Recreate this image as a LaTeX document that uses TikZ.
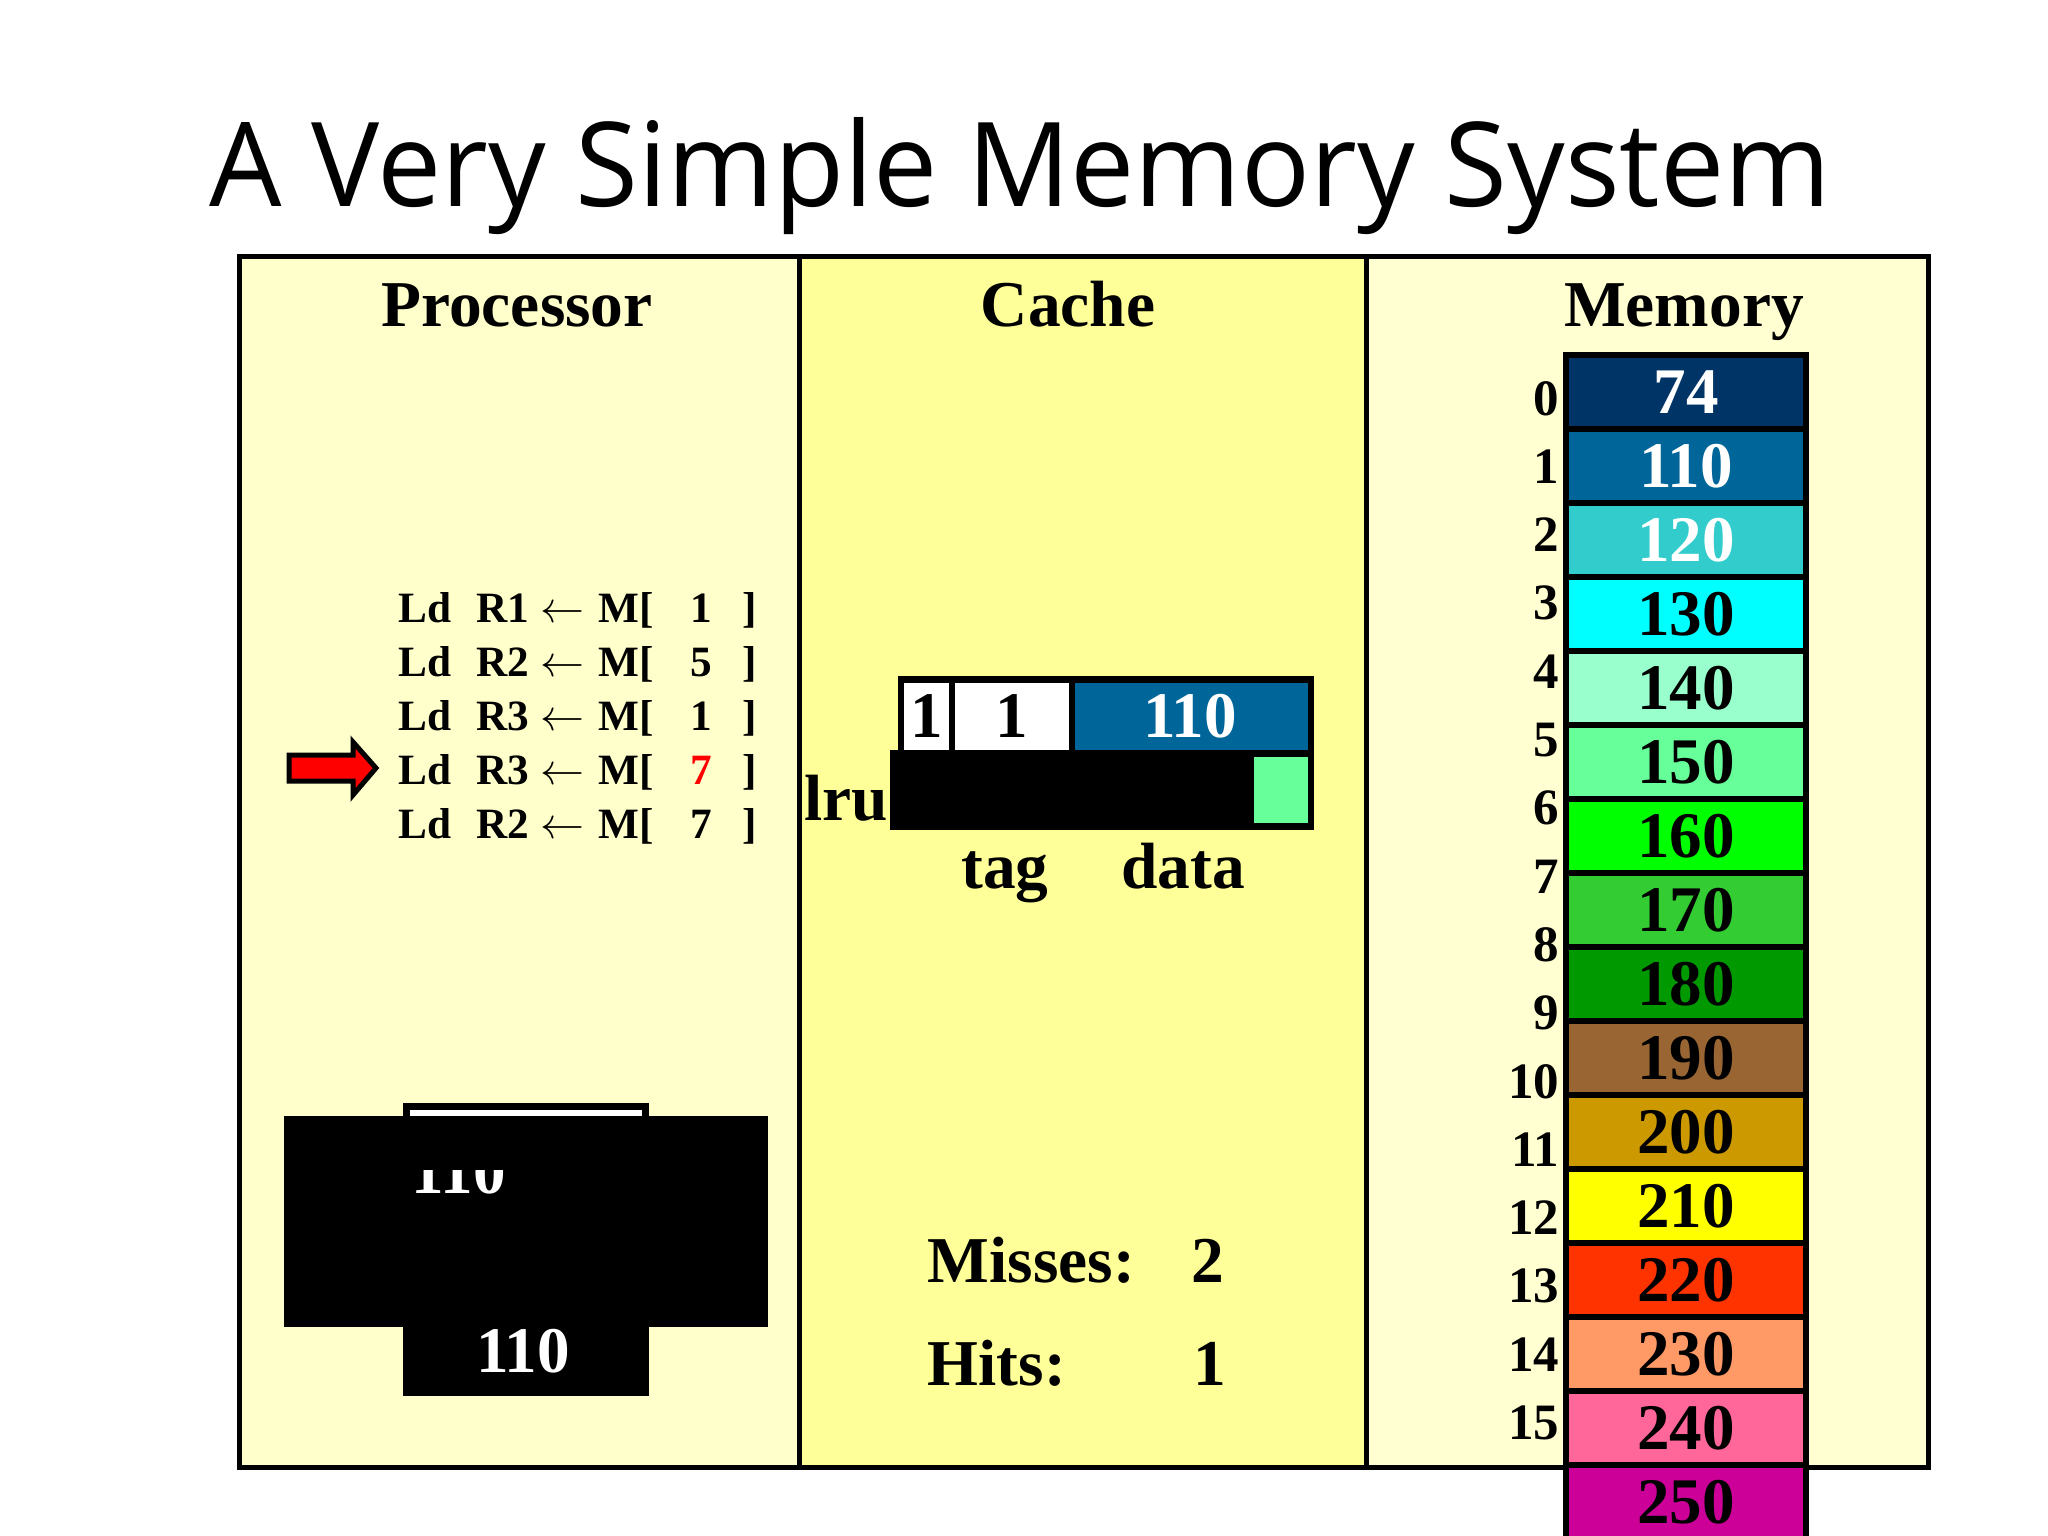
\documentclass[tikz,border=0pt]{standalone}
\usepackage{fontspec}
\usepackage{graphicx}
\setmainfont{Liberation Serif}
\newfontfamily\ttlfont{Open Sans}
\definecolor{procbg}{HTML}{FFFFCC}
\definecolor{cachebg}{HTML}{FFFF99}
\definecolor{membg}{HTML}{FFFFD2}
\definecolor{datablue}{HTML}{006699}
\definecolor{lrugreen}{HTML}{66FF99}
\definecolor{m0}{HTML}{003366}
\definecolor{m1}{HTML}{006699}
\definecolor{m2}{HTML}{33CCCC}
\definecolor{m3}{HTML}{00FFFF}
\definecolor{m4}{HTML}{99FFCC}
\definecolor{m5}{HTML}{66FF99}
\definecolor{m6}{HTML}{00FF00}
\definecolor{m7}{HTML}{33CC33}
\definecolor{m8}{HTML}{009900}
\definecolor{m9}{HTML}{996633}
\definecolor{m10}{HTML}{CC9900}
\definecolor{m11}{HTML}{FFFF00}
\definecolor{m12}{HTML}{FF3300}
\definecolor{m13}{HTML}{FF9966}
\definecolor{m14}{HTML}{FF6699}
\definecolor{m15}{HTML}{CC0099}
\tikzset{
  frame/.style={draw=black, line width=0.05cm},
  head/.style={font=\fontsize{18.6}{22}\selectfont\bfseries, inner sep=0},
  num/.style={font=\fontsize{18.5}{21}\selectfont\bfseries, inner sep=0},
  instr/.style={font=\fontsize{12.3}{15}\selectfont\bfseries, inner sep=0},
  lbl/.style={font=\fontsize{14.5}{17}\selectfont\bfseries, inner sep=0},
  memcell/.style={draw=black, line width=0.067cm},
  cellbox/.style={rectangle, inner sep=0, draw=none}
}
\begin{document}
\begin{tikzpicture}[x=0.01cm,y=-0.01cm]
\useasboundingbox (0,0) rectangle (2048,1536);
\fill[white] (0,0) rectangle (2048,1536);

% title
\node[inner sep=0, anchor=base west] (title) at (209,206)
  {\resizebox{16.2cm}{0.89cm}{\ttlfont A Very Simple Memory System}};

% panels
\draw[frame, fill=procbg] (239,256) rectangle (799,1467);
\draw[frame, fill=cachebg] (799,256) rectangle (1366,1467);
\draw[frame, fill=membg] (1366,256) rectangle (1928,1467);

\node[head, anchor=base] (hproc) at (517,326) {Processor};
\node[head, anchor=base] (hcache) at (1068,326) {Cache};
\node[head, anchor=base] (hmem) at (1684,326) {Memory};

% instructions
\foreach \r/\n/\c [count=\k] in {R1/1/black, R2/5/black, R3/1/black, R3/7/red, R2/7/black}{
  \pgfmathsetmacro\yy{622+54*(\k-1)}
  \node[instr, anchor=base west] (ld\k) at (398,\yy) {Ld};
  \node[instr, anchor=base west] (reg\k) at (476,\yy) {\r};
  \node[instr, anchor=base] (arr\k) at (563,\yy) {\resizebox{0.44cm}{!}{$\leftarrow$}};
  \node[instr, anchor=base west] (mem\k) at (598,\yy) {M[};
  \node[instr, anchor=base, text=\c] (addrv\k) at (701,\yy) {\n};
  \node[instr, anchor=base] (br\k) at (750,\yy) {]};
}

% red pointer arrow
\draw[fill=red, draw=black, line width=0.05cm, line join=miter]
  (289,755) -- (353,755) -- (353,742) -- (376,768) -- (353,795) -- (353,781) -- (289,781) -- cycle;

% register file (processor bottom)
\draw[line width=0.067cm, fill=white] (406.5,1106.5) rectangle (645.5,1200);
\fill[black] (284,1116) rectangle (768,1327);
\begin{scope}
  \clip (300,1170) rectangle (760,1260);
  \node[num, anchor=base west, text=white] (regtop) at (411,1193) {110};
\end{scope}
\fill[black] (403,1327) rectangle (649,1396);
\node[num, anchor=base, text=white] (regbot) at (523,1372) {110};

% cache line
\fill[black] (890,750) rectangle (1314,830);
\fill[black] (898,676) rectangle (1314,750);
\fill[white] (904,683) rectangle (949,750);
\fill[white] (955,683) rectangle (1069,750);
\fill[datablue] (1075,683) rectangle (1308,750);
\fill[lrugreen] (1254,757) rectangle (1308,823);
\node[num, anchor=base] (valid) at (926.5,737) {1};
\node[num, anchor=base] (tagv) at (1012,737) {1};
\node[num, anchor=base, text=white] (datav) at (1190,737) {110};
\node[head, anchor=base east] (lru) at (889,820) {lru};
\node[head, anchor=base] (tag) at (1005,888) {tag};
\node[head, anchor=base] (data) at (1183,888) {data};

% stats
\node[head, anchor=base west] (misses) at (927,1282) {Misses:};
\node[head, anchor=base] (missv) at (1208,1282) {2};
\node[head, anchor=base west] (hits) at (927,1385) {Hits:};
\node[head, anchor=base] (hitv) at (1210,1385) {1};

% memory column
\foreach \v/\c/\t [count=\k from 0] in {74/m0/white, 110/m1/white, 120/m2/white, 130/m3/black,
  140/m4/black, 150/m5/black, 160/m6/black, 170/m7/black, 180/m8/black, 190/m9/black,
  200/m10/black, 210/m11/black, 220/m12/black, 230/m13/black, 240/m14/black, 250/m15/black}{
  \pgfmathsetmacro\yt{355+74*\k}
  \draw[memcell, fill=\c] (1566,\yt) rectangle (1806,\yt+74);
  \node[num, anchor=base, text=\t] (cell\k) at (1686,\yt+58) {\v};
}
\foreach \k in {0,...,15}{
  \node[lbl, anchor=base east] (addr\k) at (1560,415+68.3*\k) {\k};
}
\end{tikzpicture}
\end{document}
